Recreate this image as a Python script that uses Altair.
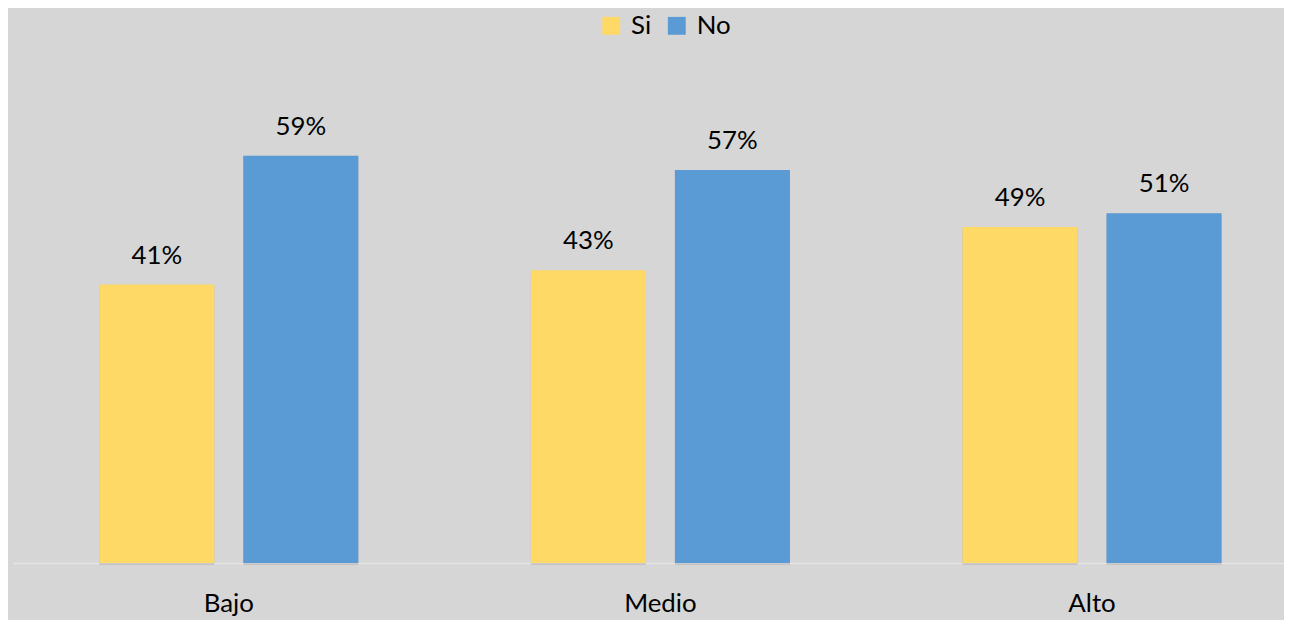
import altair as alt
import pandas as pd

categories = ["Bajo", "Medio", "Alto"]
series = ["Si", "No"]
si_values = [0.406, 0.427, 0.490]
no_values = [0.594, 0.573, 0.510]
colors = ["#FFD966", "#5B9BD5"]

rows = []
for c, s, n in zip(categories, si_values, no_values):
    rows.append({"nivel": c, "resp": "Si", "v": s})
    rows.append({"nivel": c, "resp": "No", "v": n})
df = pd.DataFrame(rows)

FONT = "Lato"

x = alt.X(
    "nivel:N", sort=categories, title=None,
    scale=alt.Scale(range=[0, 1303], paddingInner=0, paddingOuter=0),
    axis=alt.Axis(labelAngle=0, labelFontSize=26, labelFont=FONT, labelColor="#000000",
                  ticks=False, tickSize=0, labelPadding=49, labelBaseline="alphabetic",
                  domainColor="#e4e4e4", domainWidth=1.5, grid=False),
)
xo = alt.XOffset("resp:N", sort=series,
                 scale=alt.Scale(paddingInner=0.2014, paddingOuter=0.599))
y = alt.Y("v:Q", scale=alt.Scale(domain=[0, 0.7]), axis=None)

base = alt.Chart(df)

shadow1 = base.mark_bar(color="#000000", opacity=0.10, xOffset=2.5, yOffset=2).encode(x=x, xOffset=xo, y=y)
shadow2 = base.mark_bar(color="#000000", opacity=0.07, xOffset=-1.5).encode(x=x, xOffset=xo, y=y)

bars = base.mark_bar().encode(
    x=x, xOffset=xo, y=y,
    color=alt.Color("resp:N", sort=series,
                    scale=alt.Scale(domain=series, range=colors),
                    legend=alt.Legend(title=None, orient="none", direction="horizontal",
                                      legendX=589, legendY=-70.5, symbolType="square",
                                      symbolSize=324, symbolStrokeWidth=0,
                                      labelFontSize=26, labelFont=FONT, labelColor="#000000",
                                      labelOffset=7, columnPadding=12)),
)

labels = base.mark_text(fontSize=26, font=FONT, color="#000000", baseline="alphabetic", dy=-21).encode(
    x=x, xOffset=xo, y=y, text=alt.Text("v:Q", format=".0%")
)

chart = alt.layer(shadow1, shadow2, bars, labels).properties(
    width=1279, height=483,
    padding={"left": 5, "top": 73.5, "right": 0, "bottom": 58},
    autosize=alt.AutoSizeParams(type="none"),
    background="#d6d6d6",
).configure_view(stroke=None)

chart.save("out.html", embed_options={"renderer": "svg", "actions": False})
